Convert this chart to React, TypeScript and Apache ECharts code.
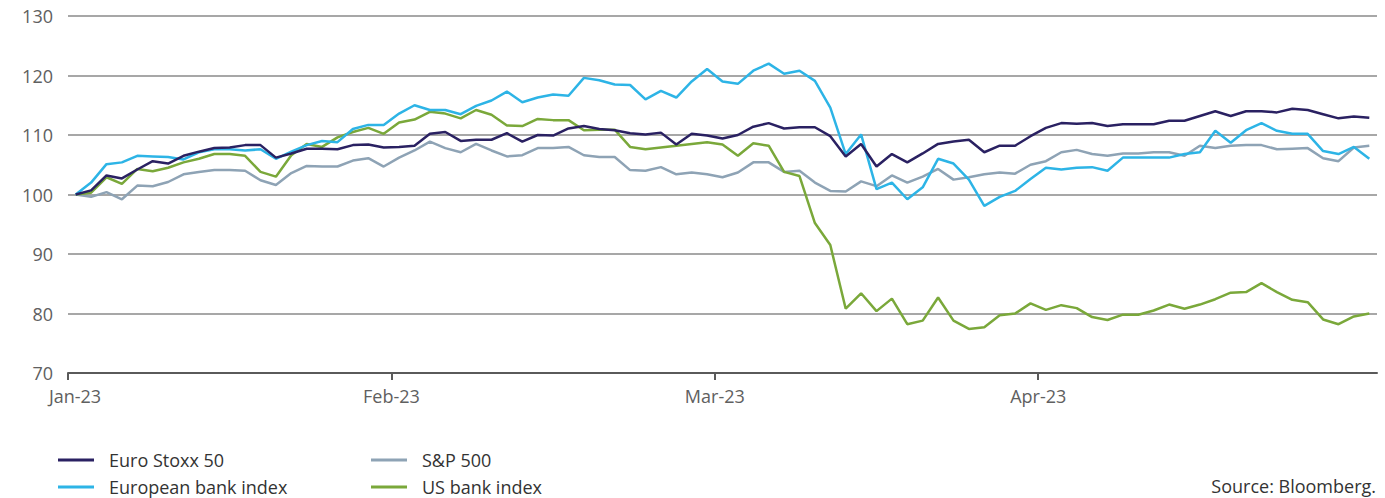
import React, { useEffect, useRef } from "react";
import * as echarts from "echarts";

// Trading days 2 Jan 2023 - 28 Apr 2023 (85 weekdays)
const START_DATE = "2023-01-02";
const N_DAYS = 85;

const tickPositions = [0, 21, 42, 63];
const tickLabels = ["Jan-23", "Feb-23", "Mar-23", "Apr-23"];

const euroStoxx50 = [
  100, 100.7, 103.2, 102.7, 104.2, 105.6, 105.2, 106.5, 107.2, 107.8,
  107.9, 108.3, 108.3, 106.2, 106.9, 107.7, 107.7, 107.6, 108.3, 108.4,
  107.9, 108.0, 108.2, 110.2, 110.5, 109.0, 109.2, 109.2, 110.3, 108.9,
  110.0, 109.9, 111.1, 111.5, 111.0, 110.8, 110.3, 110.1, 110.4, 108.4,
  110.2, 109.9, 109.4, 110.0, 111.4, 112.0, 111.1, 111.3, 111.3, 109.8,
  106.4, 108.5, 104.7, 106.8, 105.4, 106.9, 108.5, 108.9, 109.2, 107.1,
  108.2, 108.2, 109.8, 111.2, 112.0, 111.9, 112.0, 111.5, 111.8, 111.8,
  111.8, 112.4, 112.4, 113.2, 114.0, 113.2, 114.0, 114.0, 113.8, 114.4,
  114.2, 113.5, 112.8, 113.1, 112.9,
];

const europeanBank = [
  100, 102.0, 105.1, 105.4, 106.5, 106.4, 106.3, 105.9, 107.1, 107.6,
  107.6, 107.4, 107.6, 106.0, 107.2, 108.3, 109.0, 108.8, 111.0, 111.7,
  111.7, 113.6, 115.0, 114.2, 114.2, 113.5, 114.9, 115.8, 117.3, 115.5,
  116.3, 116.8, 116.6, 119.6, 119.2, 118.5, 118.4, 116.0, 117.4, 116.3,
  119.0, 121.1, 119.0, 118.6, 120.8, 122.0, 120.3, 120.8, 119.1, 114.6,
  106.8, 110.1, 100.9, 102.0, 99.2, 101.2, 106.0, 105.2, 102.5, 98.1,
  99.6, 100.6, 102.6, 104.5, 104.2, 104.5, 104.6, 104.0, 106.2, 106.2,
  106.2, 106.2, 106.8, 107.1, 110.7, 108.7, 110.8, 112.0, 110.7, 110.2,
  110.2, 107.3, 106.8, 108.0, 106.0,
];

const sp500 = [
  100, 99.6, 100.4, 99.2, 101.5, 101.4, 102.1, 103.4, 103.8, 104.1,
  104.1, 104.0, 102.4, 101.6, 103.6, 104.8, 104.7, 104.7, 105.7, 106.1,
  104.7, 106.2, 107.4, 108.9, 107.8, 107.1, 108.5, 107.4, 106.4, 106.6,
  107.8, 107.8, 108.0, 106.6, 106.3, 106.3, 104.1, 104.0, 104.6, 103.4,
  103.7, 103.4, 102.9, 103.7, 105.4, 105.4, 103.8, 104.0, 102.0, 100.6,
  100.5, 102.2, 101.4, 103.2, 102.0, 103.0, 104.3, 102.5, 102.9, 103.4,
  103.7, 103.5, 105.0, 105.6, 107.1, 107.5, 106.8, 106.5, 106.9, 106.9,
  107.1, 107.1, 106.5, 108.2, 107.8, 108.2, 108.3, 108.3, 107.6, 107.7,
  107.8, 106.1, 105.6, 107.9, 108.2,
];

const usBank = [
  100, 100.3, 102.9, 101.8, 104.3, 103.9, 104.5, 105.4, 106.0, 106.8,
  106.8, 106.5, 103.8, 103.0, 106.6, 108.5, 108.0, 109.6, 110.5, 111.2,
  110.2, 112.1, 112.6, 113.9, 113.6, 112.8, 114.2, 113.4, 111.6, 111.5,
  112.7, 112.5, 112.5, 110.8, 110.9, 110.9, 108.0, 107.6, 107.9, 108.2,
  108.5, 108.8, 108.4, 106.5, 108.6, 108.2, 103.8, 103.1, 95.2, 91.5,
  80.8, 83.4, 80.4, 82.5, 78.2, 78.8, 82.7, 78.8, 77.4, 77.7,
  79.7, 80.0, 81.7, 80.6, 81.4, 80.9, 79.4, 78.9, 79.8, 79.8,
  80.5, 81.5, 80.8, 81.5, 82.4, 83.5, 83.6, 85.1, 83.6, 82.3,
  81.9, 79.0, 78.2, 79.5, 80.0,
];

const seriesNames = ["Euro Stoxx 50", "European bank index", "S&P 500", "US bank index"];
const seriesColors = ["#2a2162", "#2db4e6", "#8ea3b5", "#7aa83a"];

function buildDates(): string[] {
  const out: string[] = [];
  const d = new Date(START_DATE + "T00:00:00Z");
  while (out.length < N_DAYS) {
    const wd = d.getUTCDay();
    if (wd !== 0 && wd !== 6) out.push(d.toISOString().slice(0, 10));
    d.setUTCDate(d.getUTCDate() + 1);
  }
  return out;
}

const FONT = "'Open Sans', 'Noto Sans', sans-serif";

const legendStyle = {
  orient: "vertical",
  top: 451,
  padding: 0,
  itemGap: 9,
  itemWidth: 36,
  itemHeight: 3,
  icon: "rect",
  textStyle: { fontSize: 18, color: "#333333", fontFamily: FONT, lineHeight: 18, padding: [0, 0, 0, 10] },
};

export default function App() {
  const ref = useRef<HTMLDivElement>(null);
  useEffect(() => {
    if (!ref.current) return;
    const chart = echarts.init(ref.current, null, { renderer: "svg" });
    const dates = buildDates();
    const values = [euroStoxx50, europeanBank, sp500, usBank];
    const drawOrder = [2, 3, 1, 0];
    const option: any = {
      animation: false,
      backgroundColor: "#ffffff",
      textStyle: { fontFamily: FONT },
      grid: { left: 68, right: 8, top: 16, bottom: 125, containLabel: false },
      xAxis: [
        {
          type: "category",
          data: dates,
          boundaryGap: true,
          axisLine: { show: true, lineStyle: { color: "#5a5a5a", width: 2 } },
          axisTick: { show: false },
          axisLabel: { show: false },
          splitLine: { show: false },
        },
        {
          type: "value",
          min: 0,
          max: N_DAYS,
          position: "bottom",
          axisLine: { show: false },
          splitLine: { show: false },
          axisTick: {
            show: true,
            customValues: tickPositions,
            length: 7,
            lineStyle: { color: "#5a5a5a", width: 2 },
          },
          axisLabel: {
            show: true,
            customValues: tickPositions,
            margin: 14,
            fontSize: 18,
            color: "#606060",
            fontFamily: FONT,
            formatter: (v: number) => {
              const idx = tickPositions.indexOf(Math.round(v));
              if (idx < 0) return "";
              return idx === 0 ? "{first|" + tickLabels[idx] + "}" : tickLabels[idx];
            },
            rich: {
              first: { padding: [0, 0, 0, 14], fontSize: 18, color: "#606060", fontFamily: FONT },
            },
          },
        },
      ],
      yAxis: {
        type: "value",
        min: 70,
        max: 130,
        interval: 10,
        axisLine: { show: false },
        axisTick: { show: false },
        axisLabel: { margin: 15, fontSize: 18, color: "#606060", fontFamily: FONT },
        splitLine: { lineStyle: { color: "#8a8a8a", width: 1.5 } },
      },
      legend: [
        { ...legendStyle, data: [seriesNames[0], seriesNames[1]], left: 58 },
        { ...legendStyle, data: [seriesNames[2], seriesNames[3]], left: 371 },
      ],
      graphic: [
        {
          type: "text",
          right: 9,
          top: 477,
          style: { text: "Source: Bloomberg.", font: "18px " + FONT, fill: "#333333" },
        },
      ],
      series: drawOrder.map((k) => ({
        name: seriesNames[k],
        type: "line",
        xAxisIndex: 0,
        data: values[k],
        showSymbol: false,
        symbol: "none",
        lineStyle: { width: 2.5, color: seriesColors[k] },
        itemStyle: { color: seriesColors[k] },
      })),
    };
    chart.setOption(option);
    return () => chart.dispose();
  }, []);
  return (
    <div
      ref={ref}
      style={{ position: "absolute", left: 0, top: 0, width: 1385, height: 498, background: "#fff" }}
    />
  );
}
